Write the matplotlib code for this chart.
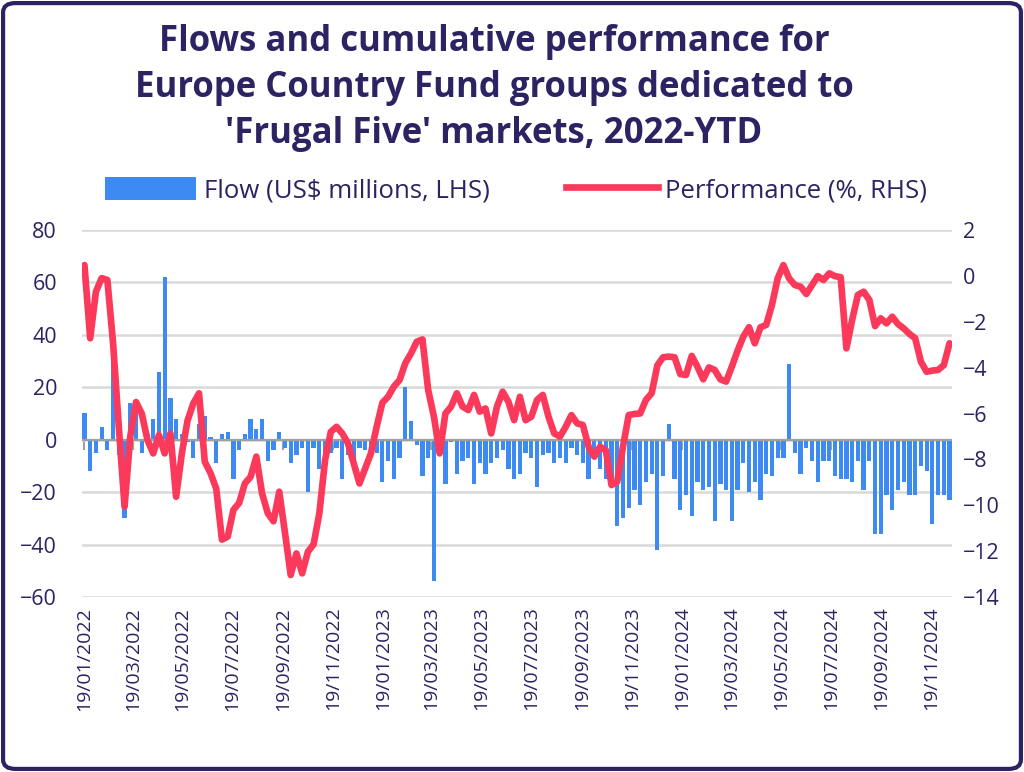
import matplotlib
matplotlib.use("Agg")
import matplotlib.pyplot as plt
import matplotlib.dates as mdates
from matplotlib.patches import FancyBboxPatch
from matplotlib.lines import Line2D
from matplotlib.patches import Patch
import pandas as pd

# ---------------- data ----------------
start_date = "2022-01-19"
flow = [10, -12, -5, 5, -4, 30, -6, -30, 14, 14,
        -5, 2, 8, 26, 62, 16, 8, 2, -1, -7,
        6, 9, 1, -9, 2, 3, -15, -4, 2, 8,
        4, 8, -8, -4, 3, -3, -9, -6, -3, -20,
        -3, -11, -8, -5, -3, -15, -6, -8, -3, -4,
        -4, -5, -16, -8, -15, -7, 20, 7, -2, -14,
        -7, -54, -6, -17, -1, -13, -8, -7, -17, -9,
        -13, -9, -7, -4, -11, -15, -13, -5, -7, -18,
        -6, -5, -9, -7, -9, -3, -6, -9, -15, -7,
        -11, -15, -16, -33, -30, -26, -19, -25, -16, -13,
        -42, -14, 6, -15, -27, -21, -29, -16, -19, -18,
        -31, -17, -19, -31, -19, -9, -20, -16, -23, -13,
        -14, -7, -7, 29, -5, -13, -3, -8, -16, -8,
        -8, -14, -15, -15, -16, -8, -19, -8, -36, -36,
        -21, -27, -19, -16, -21, -21, -10, -12, -32, -21,
        -21, -23]
performance = [0.47, -2.72, -0.69, -0.10, -0.18, -2.94, -6.6, -10.06, -7.0, -5.5,
               -6.0, -7.16, -7.74, -6.94, -7.74, -6.87, -9.63, -7.74, -6.3, -5.56,
               -5.12, -8.1, -8.6, -9.27, -11.5, -11.37, -10.2, -9.9, -9.05, -8.76,
               -7.88, -9.48, -10.35, -10.7, -9.41, -11.2, -13.04, -12.1, -12.97, -12.03,
               -11.7, -10.35, -8.03, -6.8, -6.58, -6.87, -7.3, -8.17, -9.05, -8.4,
               -7.74, -6.58, -5.53, -5.27, -4.83, -4.54, -3.81, -3.38, -2.87, -2.77,
               -4.98, -6.14, -7.74, -6.0, -5.7, -5.12, -5.7, -5.85, -5.19, -5.92,
               -5.78, -6.87, -5.7, -5.05, -5.49, -6.29, -5.27, -6.29, -6.14, -5.41,
               -5.19, -6.14, -6.87, -7.01, -6.58, -6.07, -6.43, -6.5, -7.45, -7.88,
               -7.45, -7.6, -9.12, -8.97, -7.45, -6.07, -6.02, -6.0, -5.41, -5.12,
               -3.9, -3.55, -3.52, -3.55, -4.28, -4.32, -3.49, -3.96, -4.51, -3.99,
               -4.1, -4.51, -4.61, -3.96, -3.26, -2.65, -2.24, -2.94, -2.24, -2.14,
               -1.27, -0.11, 0.47, -0.11, -0.4, -0.47, -0.79, -0.4, -0.01, -0.18,
               0.11, -0.01, -0.06, -3.16, -1.92, -0.83, -0.69, -1.05, -2.19, -1.85,
               -2.07, -1.78, -2.1, -2.29, -2.53, -2.72, -3.74, -4.18, -4.13, -4.1,
               -3.89, -2.94]
dates = pd.date_range(start_date, periods=len(flow), freq="7D")
tick_dates = [pd.Timestamp(start_date) + pd.DateOffset(months=2 * k) for k in range(18)]
left_ticks = [80, 60, 40, 20, 0, -20, -40, -60]
right_ticks = [2, 0, -2, -4, -6, -8, -10, -12, -14]

title = ("Flows and cumulative performance for\n"
         "Europe Country Fund groups dedicated to\n"
         "'Frugal Five' markets, 2022-YTD")
flow_label = "Flow (US$ millions, LHS)"
perf_label = "Performance (%, RHS)"

# ---------------- style ----------------
NAVY = "#2b2362"
BLUE = "#3d8bf2"
RED = "#fb3a5b"
GRID = "#d9d9d9"
FONT = "Open Sans"

fig = plt.figure(figsize=(10.24, 7.72), dpi=100)
ax = fig.add_axes([82 / 1024, 1 - 597 / 772, (952 - 82) / 1024, (597 - 230) / 772])
ax2 = ax.twinx()

ax.bar(dates, flow, width=5.2, color=BLUE, zorder=2)
ax.axhline(0, color="#a0a0a0", lw=1.6, zorder=3)
ax2.plot(dates, performance, color=RED, lw=4.8, solid_joinstyle="round",
         solid_capstyle="round", zorder=4)

ax.set_ylim(-60, 80)
ax2.set_ylim(-14, 2)
ax.set_yticks(left_ticks)
ax2.set_yticks(right_ticks)
ax.set_xlim(dates[0] - pd.Timedelta(days=3), dates[-1] + pd.Timedelta(days=3))

ax.grid(axis="y", color=GRID, lw=1.8, zorder=0)
ax.set_axisbelow(True)

for a in (ax, ax2):
    for s in a.spines.values():
        s.set_visible(False)

ax.set_xticks(tick_dates)
ax.xaxis.set_major_formatter(mdates.DateFormatter("%d/%m/%Y"))
ax.tick_params(axis="x", length=0, rotation=90, labelsize=14, labelcolor=NAVY, pad=7)
ax.tick_params(axis="y", length=0, labelsize=15.5, labelcolor=NAVY, pad=18)
ax2.tick_params(axis="y", length=0, labelsize=15.5, labelcolor=NAVY, pad=8)
for lab in ax.get_xticklabels() + ax.get_yticklabels() + ax2.get_yticklabels():
    lab.set_fontfamily(FONT)

# tick marks on the zero line
sec = ax.secondary_xaxis(60 / 140)
sec.set_xticks(tick_dates)
sec.tick_params(axis="x", length=7, width=1.5, color="#a0a0a0",
                labelbottom=False, labeltop=False, direction="out")
for s in sec.spines.values():
    s.set_visible(False)

# title
fig.text(494 / 1024, 1 - 88 / 772, title, ha="center", va="center", fontsize=25,
         fontweight="bold", color=NAVY, family=FONT, linespacing=1.38)

# legend
handles = [Patch(facecolor=BLUE, edgecolor="none", label=flow_label),
           Line2D([0], [0], color=RED, lw=4.8, label=perf_label)]
fig.legend(handles=handles, loc="center", bbox_to_anchor=(516 / 1024, 1 - 190 / 772), ncol=2,
           frameon=False, prop={"family": FONT, "size": 18.5}, labelcolor=NAVY,
           handlelength=3.55, handleheight=1.0, handletextpad=0.3, columnspacing=3.0)

# figure border
fig.patches.append(FancyBboxPatch((0.003, 0.004), 0.994, 0.992,
                                  boxstyle="round,pad=0,rounding_size=0.012",
                                  transform=fig.transFigure, fc="none", ec=NAVY, lw=3))

fig.savefig("out.png", dpi=100, facecolor="white")
